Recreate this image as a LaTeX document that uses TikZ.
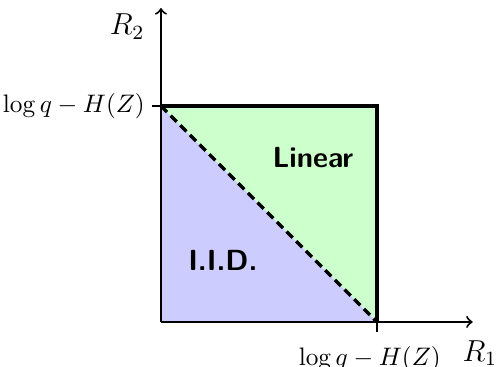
\documentclass[tikz,border=0pt]{standalone}
\usepackage{amsmath,amssymb}

\begin{document}
\begin{tikzpicture}[
  ax/.style={thick,->},
  edge/.style={line width=1.3pt},
  cut/.style={line width=1.3pt,dash pattern=on 3.4pt off 2pt},
  tick/.style={thick},
  region/.style={font=\fontsize{11.5}{14}\selectfont\sffamily\bfseries},
  axlabel/.style={font=\large}]
  \useasboundingbox (-2.236,-0.625) rectangle (4.667,4.472);
  % corners of the rate region
  \coordinate (o) at (0,0);
  \coordinate (a) at (3,0);
  \coordinate (b) at (0,3);
  \coordinate (c) at (3,3);
  \coordinate (xend) at (4.33,0);
  \coordinate (yend) at (0,4.36);
  \coordinate (ta) at (3,-0.14);
  \coordinate (tb) at (-0.12,3);
  % the two triangles
  \fill[blue!20] (o)--(a)--(b)--cycle;
  \fill[green!20] (b)--(c)--(a)--cycle;
  % axes and ticks
  \draw[ax] (o)--(xend);
  \draw[ax] (o)--(yend);
  \draw[tick] (a)--(ta);
  \draw[tick] (b)--(tb);
  \draw[edge] (b)--(c)--(a);
  \draw[cut] (b)--(a);
  % labels
  \node[anchor=east]  (lb) at (-0.1,3) {$\log q - H(Z)$};
  \node[anchor=north] (la) at (2.9,-0.22) {$\log q - H(Z)$};
  \node[axlabel] (r1) at (4.43,-0.43) {$R_1$};
  \node[axlabel] (r2) at (-0.47,4.1) {$R_2$};
  \node[region] (lin) at (2.11,2.28) {Linear};
  \node[region] (iid) at (0.86,0.86) {I.I.D.};
\end{tikzpicture}
\end{document}
